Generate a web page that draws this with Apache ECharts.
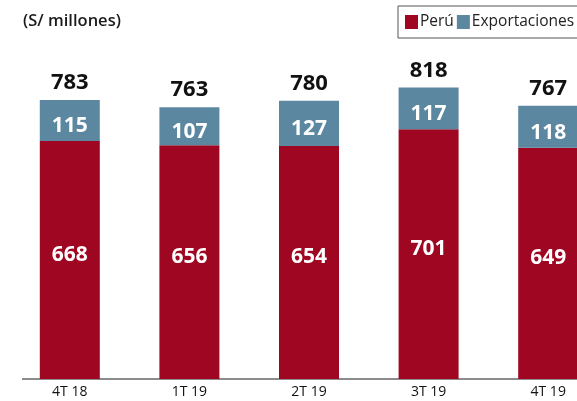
<!DOCTYPE html>
<html><head><meta charset="utf-8">
<script src="https://cdn.jsdelivr.net/npm/echarts@6/dist/echarts.min.js"></script>
<style>html,body{margin:0;padding:0;background:#fff}#c{width:577px;height:401px}</style>
</head><body><div id="c"></div>
<script>
const categories = ['4T 18','1T 19','2T 19','3T 19','4T 19'];
const peru = [668,656,654,701,649];
const exportaciones = [115,107,127,117,118];
const totals = [783,763,780,818,767];

const RED = '#9E0622', BLUE = '#5B87A0';
const FONT = 'Open Sans';
const chart = echarts.init(document.getElementById('c'), null, {renderer:'canvas'});
chart.setOption({
  animation:false,
  textStyle:{fontFamily:FONT},
  title:{text:'(S/ millones)', left:18, top:8, textStyle:{fontFamily:FONT, fontSize:16.5, fontWeight:600, color:'#1a1a1a'}},
  legend:{data:['Perú','Exportaciones'], left:398, top:6, width:200, itemWidth:13, itemHeight:14, itemGap:3,
    borderColor:'#555', borderWidth:1, padding:[8,8,8,7],
    textStyle:{fontFamily:FONT, fontSize:15.5, color:'#222', padding:[0,0,0,-3]}, icon:'rect'},
  grid:{left:10, width:598, top:22.7, bottom:22, outerBoundsMode:'none', containLabel:false},
  xAxis:{type:'category', data:categories, axisLine:{show:false}, axisTick:{show:false},
    axisLabel:{color:'#111', fontSize:14, margin:6, fontFamily:FONT}},
  yAxis:{type:'value', min:0, max:1000, show:false, splitLine:{show:false}},
  graphic:[{type:'line', shape:{x1:22,y1:379,x2:577,y2:379}, style:{stroke:'#666', lineWidth:1.5}}],
  series:[
    {name:'Perú', type:'bar', stack:'s', data:peru, barWidth:60, itemStyle:{color:RED},
      label:{show:true, position:'inside', offset:[0,-5], color:'#fff', fontSize:21, fontWeight:'bold', fontFamily:FONT}},
    {name:'Exportaciones', type:'bar', stack:'s', data:exportaciones, barWidth:60, itemStyle:{color:BLUE},
      label:{show:true, position:'inside', offset:[0,6], color:'#fff', fontSize:21, fontWeight:'bold', fontFamily:FONT}},
    {name:'Total', type:'bar', data:totals, barWidth:60, barGap:'-100%', itemStyle:{color:'rgba(0,0,0,0)'},
      z:0, label:{show:true, position:'top', distance:6, color:'#111', fontSize:22, fontWeight:'bold', fontFamily:FONT}}
  ]
});
</script></body></html>
